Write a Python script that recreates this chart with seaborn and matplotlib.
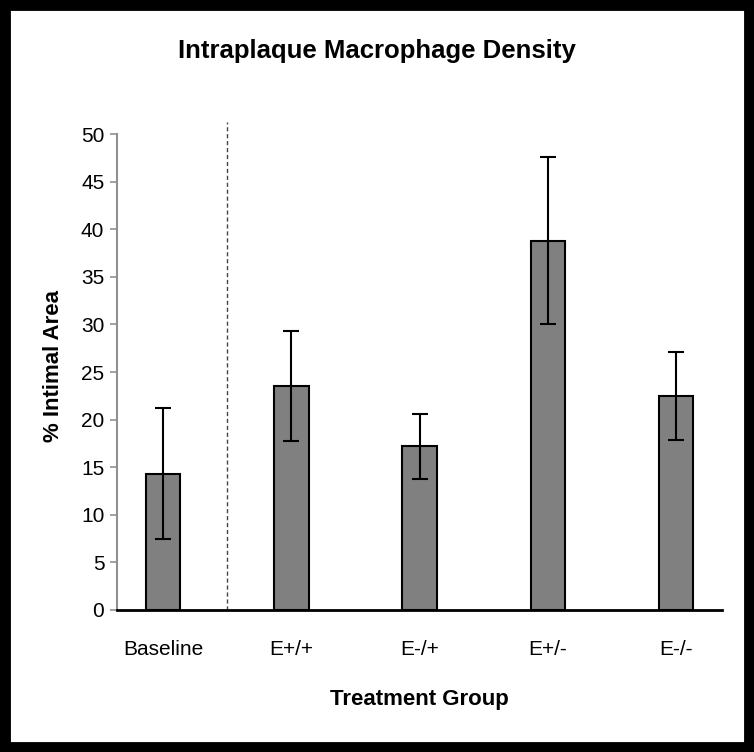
import numpy as np
import matplotlib
matplotlib.use("Agg")
import matplotlib.pyplot as plt
import seaborn as sns
from matplotlib.patches import Rectangle

# values
groups = ["Baseline", "E+/+", "E-/+", "E+/-", "E-/-"]
density = [14.3, 23.5, 17.2, 38.8, 22.5]
err = [6.9, 5.8, 3.4, 8.8, 4.6]
yticks = [0, 5, 10, 15, 20, 25, 30, 35, 40, 45, 50]

sns.set_style("white")
plt.rcParams["font.family"] = ["Liberation Sans", "DejaVu Sans"]
plt.rcParams["text.color"] = "black"
plt.rcParams["axes.labelcolor"] = "black"
plt.rcParams["xtick.color"] = "black"
plt.rcParams["ytick.color"] = "black"

fig = plt.figure(figsize=(7.54, 7.52), dpi=100)
ax = fig.add_axes([0.155, 0.189, 0.803, 0.649])

sns.barplot(x=groups, y=density, color="#808080", saturation=1,
            edgecolor="black", linewidth=1.5, width=0.27, ax=ax)
ax.errorbar(x=np.arange(len(groups)), y=density, yerr=err, fmt="none",
            ecolor="black", elinewidth=1.5, capsize=5.5, capthick=1.5)

# dashed separator between baseline and treatment groups
ax.axvline(0.5, ymin=0, ymax=1, color="#444444", linestyle=(0, (3, 2)), linewidth=1)

ax.set_xlim(-0.36, 4.36)
ax.set_ylim(0, 51.3)
ax.set_yticks(yticks)
ax.spines["left"].set_bounds(0, 50)
ax.spines["top"].set_visible(False)
ax.spines["right"].set_visible(False)
ax.spines["left"].set_color("#909090")
ax.spines["left"].set_linewidth(1.5)
ax.spines["bottom"].set_color("black")
ax.spines["bottom"].set_linewidth(2)
ax.tick_params(axis="y", left=True, length=5, width=1.2, color="#909090",
               labelcolor="black", labelsize=15, pad=4)
ax.tick_params(axis="x", bottom=False, labelcolor="black", labelsize=15, pad=18)

ax.set_xlabel("Treatment Group", fontsize=16, fontweight="bold", labelpad=22)
ax.set_ylabel("% Intimal Area", fontsize=16, fontweight="bold", labelpad=12)
fig.text(0.5, 0.932, "Intraplaque Macrophage Density", ha="center", va="center",
         fontsize=18.5, fontweight="bold")

# black frame around the whole picture
fig.patches.append(Rectangle((0, 0), 1, 1, transform=fig.transFigure,
                             fill=False, edgecolor="black", linewidth=15))

fig.savefig("out.png", dpi=100)
